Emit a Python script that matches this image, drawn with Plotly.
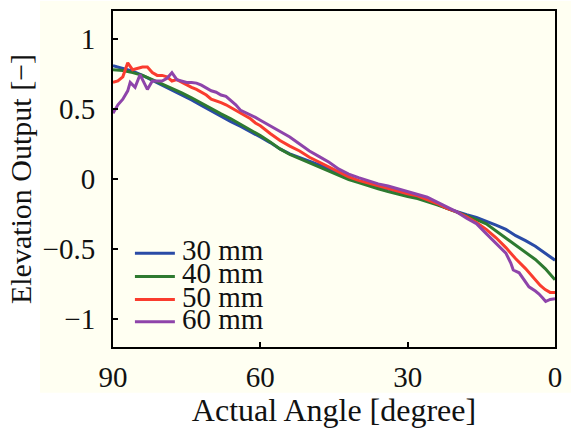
import plotly.graph_objects as go

# ---- data ----
series_names = ["30 mm", "40 mm", "50 mm", "60 mm"]
series_colors = ["#2A4BA6", "#2E7A30", "#FA3C2E", "#8E44AA"]

angles_30 = [90, 88, 86, 84, 82, 80, 78, 76, 74, 72, 70, 68, 66, 64, 62, 60, 58, 56, 54, 52,
             50, 48, 46, 44, 42, 40, 38, 36, 34, 32, 30, 28, 26, 24, 22, 20, 18, 16, 14, 12,
             10, 8, 6, 4, 2, 0]
values_30 = [0.81, 0.79, 0.77, 0.74, 0.705, 0.675, 0.64, 0.60, 0.565, 0.525, 0.485, 0.45, 0.41,
             0.375, 0.34, 0.30, 0.26, 0.215, 0.18, 0.155, 0.13, 0.10, 0.07, 0.04, 0.01, -0.015,
             -0.035, -0.055, -0.075, -0.095, -0.11, -0.125, -0.15, -0.18, -0.21, -0.235, -0.255,
             -0.275, -0.30, -0.33, -0.36, -0.405, -0.44, -0.48, -0.53, -0.58]

angles_40 = angles_30
values_40 = [0.78, 0.775, 0.76, 0.74, 0.71, 0.68, 0.65, 0.615, 0.58, 0.54, 0.50, 0.465, 0.43,
             0.39, 0.355, 0.31, 0.265, 0.215, 0.175, 0.145, 0.115, 0.085, 0.055, 0.025, -0.005,
             -0.025, -0.05, -0.07, -0.09, -0.11, -0.125, -0.14, -0.16, -0.185, -0.21, -0.235,
             -0.26, -0.29, -0.32, -0.37, -0.42, -0.47, -0.52, -0.575, -0.64, -0.72]

angles_50 = [90, 89, 88, 87, 86, 85, 84, 83, 82, 81, 80, 79, 78, 77, 76, 75, 74, 73, 72, 71,
             70, 69, 68, 67, 66, 65, 64, 63, 62, 61, 60, 58, 56, 54, 52, 50, 48, 46, 44, 42,
             40, 38, 36, 34, 32, 30, 28, 26, 24, 22, 20, 18, 16, 14, 12, 10, 8, 6, 4, 3, 2, 1, 0]
values_50 = [0.69, 0.70, 0.73, 0.83, 0.78, 0.79, 0.80, 0.80, 0.76, 0.74, 0.74, 0.73, 0.70, 0.71,
             0.69, 0.67, 0.655, 0.64, 0.62, 0.60, 0.57, 0.56, 0.545, 0.53, 0.51, 0.49, 0.47,
             0.45, 0.43, 0.40, 0.38, 0.325, 0.275, 0.235, 0.20, 0.155, 0.12, 0.085, 0.05, 0.015,
             -0.01, -0.03, -0.05, -0.07, -0.09, -0.105, -0.12, -0.145, -0.175, -0.21, -0.235,
             -0.27, -0.31, -0.36, -0.42, -0.49, -0.57, -0.64, -0.72, -0.76, -0.79, -0.81, -0.81]

angles_60 = [90, 89, 88, 87, 86.5, 85.5, 84.5, 83, 82, 81, 80, 79, 78, 77, 76, 75, 74, 73, 72,
             71, 70, 69, 68, 67, 66, 65, 64, 63, 62, 61, 60, 58, 56, 54, 52, 50, 48, 46, 44, 42,
             40, 38, 36, 34, 32, 30, 28, 26, 24, 22, 20, 18, 16, 14, 12, 10, 9, 8.5, 7.3, 6,
             5.3, 4, 3.3, 2.5, 1.9, 1, 0]
values_60 = [0.47, 0.53, 0.57, 0.63, 0.69, 0.655, 0.745, 0.64, 0.70, 0.70, 0.70, 0.72, 0.76,
             0.71, 0.70, 0.69, 0.69, 0.685, 0.67, 0.65, 0.63, 0.62, 0.60, 0.59, 0.56, 0.53, 0.49,
             0.475, 0.46, 0.44, 0.42, 0.38, 0.34, 0.30, 0.25, 0.20, 0.16, 0.12, 0.07, 0.035, 0.01,
             -0.015, -0.035, -0.05, -0.07, -0.09, -0.105, -0.13, -0.165, -0.20, -0.235, -0.28,
             -0.32, -0.39, -0.46, -0.53, -0.60, -0.65, -0.67, -0.73, -0.77, -0.80, -0.82, -0.85,
             -0.875, -0.86, -0.855]

x_ticks = [90, 60, 30, 0]
y_ticks = [-1, -0.5, 0, 0.5, 1]

all_x = [angles_30, angles_40, angles_50, angles_60]
all_y = [values_30, values_40, values_50, values_60]

FONT = "Liberation Serif, Times New Roman, serif"
CREAM = "#FFFFF2"
TEXT = "#111111"

fig = go.Figure()
for name, color, xs, ys in zip(series_names, series_colors, all_x, all_y):
    fig.add_trace(go.Scatter(x=xs, y=ys, mode="lines", name=name,
                             line=dict(color=color, width=3), showlegend=False))

# cream background panel
fig.add_shape(type="rect", xref="paper", yref="paper", x0=-0.165, x1=1.04, y0=-0.136, y1=1.03,
              fillcolor=CREAM, line=dict(width=0), layer="below")

# compact legend (text + line samples)
leg_text_y = [0.288, 0.219, 0.150, 0.084]
leg_line_y = [0.279, 0.210, 0.141, 0.075]
for name, color, ty, ly in zip(series_names, series_colors, leg_text_y, leg_line_y):
    fig.add_shape(type="line", xref="paper", yref="paper", x0=0.0496, x1=0.14, y0=ly, y1=ly,
                  line=dict(color=color, width=3))
    fig.add_annotation(text=name, xref="paper", yref="paper", x=0.151, y=ty,
                       xanchor="left", yanchor="middle", showarrow=False,
                       font=dict(family=FONT, size=29, color=TEXT))

fig.update_layout(
    width=571, height=428,
    margin=dict(l=113, r=15, t=9, b=72),
    paper_bgcolor="white", plot_bgcolor=CREAM,
    font=dict(family=FONT, size=29, color=TEXT),
    showlegend=False,
)
fig.update_xaxes(range=[90, 0], tickvals=x_ticks, ticks="inside", ticklen=5, tickwidth=1.5,
                 tickcolor="black", showline=True, linecolor="black", linewidth=2, mirror=True,
                 showgrid=False, zeroline=False, ticklabelstandoff=3,
                 title=dict(text="Actual Angle [degree]", font=dict(size=32), standoff=4))
fig.update_yaxes(range=[-1.2, 1.2], tickvals=y_ticks, ticks="inside", ticklen=5, tickwidth=1.5,
                 tickcolor="black", showline=True, linecolor="black", linewidth=2, mirror=True,
                 showgrid=False, zeroline=False, ticklabelstandoff=10,
                 title=dict(text="Elevation Output [−]", font=dict(size=30), standoff=2))

fig.write_html("out.html")
